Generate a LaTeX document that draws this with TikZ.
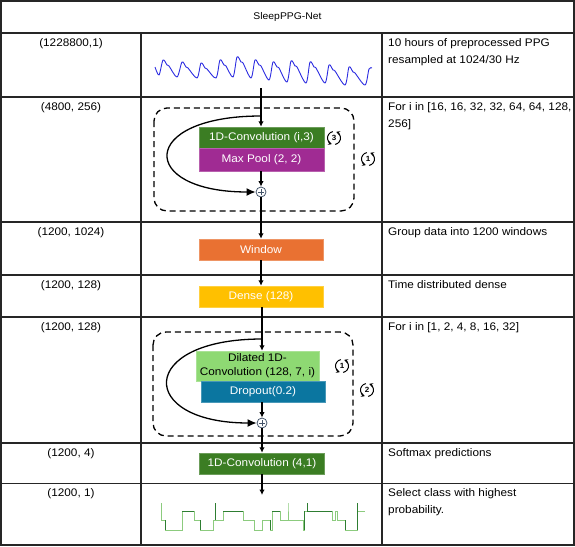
\documentclass[tikz,border=0pt]{standalone}
\usepackage{fontspec}
\setmainfont{Liberation Sans}[FakeStretch=1.07]
\usetikzlibrary{arrows.meta}
\definecolor{convg}{HTML}{3B7D23}
\definecolor{poolc}{HTML}{A02B93}
\definecolor{winc}{HTML}{E97132}
\definecolor{densec}{HTML}{FFC000}
\definecolor{dilc}{HTML}{8ED973}
\definecolor{dropc}{HTML}{0B76A0}
\definecolor{wavec}{HTML}{2B2BE0}
\definecolor{hypl}{HTML}{8CCB7E}
\definecolor{hypd}{HTML}{2E7D32}
\definecolor{plusc}{HTML}{44546A}
\newcommand\loopico[2]{%
  \node[font=\fontsize{7.5}{8}\selectfont\bfseries, inner sep=0] at (#1) {#2};
  \draw[line width=1pt, -{Stealth[length=3.6pt,width=4pt]}] (#1) ++(100:6.5pt) arc[start angle=100, end angle=250, radius=6.5pt];
  \draw[line width=1pt, -{Stealth[length=3.6pt,width=4pt]}] (#1) ++(280:6.5pt) arc[start angle=280, end angle=430, radius=6.5pt];
}
\begin{document}
\begin{tikzpicture}[x=1pt, y=-1pt,
  tbl/.style={line width=1.1pt, draw=black!85},
  txt/.style={font=\fontsize{11}{13}\selectfont, inner sep=0},
  box/.style={minimum width=125pt, minimum height=21pt, inner sep=0, font=\fontsize{11}{13}\selectfont, text=white, line width=0.5pt},
  arr/.style={line width=1.4pt, -{Latex[length=5.5pt,width=5.5pt]}},
  arrbig/.style={line width=1.3pt, -{Latex[length=9pt,width=8pt]}},
  loopbox/.style={line width=1.3pt, dash pattern=on 6pt off 4pt, rounded corners=13pt},
  plusnode/.style={circle, draw=plusc, fill=white, line width=0.8pt, minimum size=10pt, inner sep=0}
]
\useasboundingbox (0,0) rectangle (575,546);
% table
\draw[tbl] (1,1) rectangle (574,545);
\foreach \yy in {33,97,222,275,317,443,483.5} \draw[tbl] (1,\yy) -- (574,\yy);
\draw[tbl] (141,33) -- (141,545);
\draw[tbl] (382,33) -- (382,545);
% title
\node[txt, font=\fontsize{9.7}{11}\selectfont, anchor=base] (title) at (287.5,19) {SleepPPG-Net};
% left column
\node[txt, anchor=base] (l1) at (71,46.5) {(1228800,1)};
\node[txt, anchor=base] (l2) at (71,110.5) {(4800, 256)};
\node[txt, anchor=base] (l3) at (71,235.5) {(1200, 1024)};
\node[txt, anchor=base] (l4) at (71,288.5) {(1200, 128)};
\node[txt, anchor=base] (l5) at (71,330.5) {(1200, 128)};
\node[txt, anchor=base] (l6) at (71,456.5) {(1200, 4)};
\node[txt, anchor=base] (l7) at (71,496.5) {(1200, 1)};
% right column
\node[txt, anchor=base west] (r1a) at (388,46.5) {10 hours of preprocessed PPG};
\node[txt, anchor=base west] (r1b) at (388,63) {resampled at 1024/30 Hz};
\node[txt, anchor=base west] (r2a) at (388,110.5) {For i in [16, 16, 32, 32, 64, 64, 128,};
\node[txt, anchor=base west] (r2b) at (388,127) {256]};
\node[txt, anchor=base west] (r3) at (388,235.5) {Group data into 1200 windows};
\node[txt, anchor=base west] (r4) at (388,288.5) {Time distributed dense};
\node[txt, anchor=base west] (r5) at (388,330.5) {For i in [1, 2, 4, 8, 16, 32]};
\node[txt, anchor=base west] (r6) at (388,456.5) {Softmax predictions};
\node[txt, anchor=base west] (r7a) at (388,496.5) {Select class with highest};
\node[txt, anchor=base west] (r7b) at (388,513) {probability.};
% PPG wave
\draw[wavec, line width=0.9pt, line join=round] plot[smooth, tension=0.5] coordinates {
 (155,67) (159,75) (163,60) (167,65) (169,66) (177,77)
 (182,62) (186,67) (188,68) (197,78)
 (201,63) (205,68) (207,69) (216,78)
 (220,60) (224,65) (226,66) (233,77)
 (237,57) (241,62) (243,63) (251,78)
 (255,60) (259,65) (261,66) (269,80)
 (273,62) (277,67) (279,68) (287,82)
 (291,61) (295,66) (297,67) (306,83)
 (310,62) (314,67) (316,68) (325,83)
 (329,65) (333,70) (335,71) (345,85)
 (349,67) (353,72) (355,73) (365,85)
 (369,69) (372,68)};
\coordinate (w1) at (261,88);
% block 1
\draw[loopbox] (154,108) rectangle (354,211);
\node[box, fill=convg, draw=convg!75!white] (conv) at (261.5,137.5) {1D-Convolution (i,3)};
\node[box, fill=poolc, draw=poolc!75!white, minimum height=23pt] (pool) at (261.5,159.5) {Max Pool (2, 2)};
\node[plusnode] (plus1) at (261,192) {};
\draw[line width=0.7pt, plusc] (plus1.center) ++(-3pt,0) -- ++(6pt,0) (plus1.center) ++(0,-3pt) -- ++(0,6pt);
\coordinate (c1) at (261,116);
\draw[arr] (w1) -- (w1 |- conv.north);
\draw[arr] (plus1 |- pool.south) -- (plus1.north);
\draw[arrbig] (c1) .. controls (138,116) and (138,192) .. (plus1.west);
\loopico{334,138}{3}
\loopico{368,159}{1}
% window / dense
\node[box, fill=winc, draw=winc!75!white, minimum width=124pt] (window) at (261,249.5) {Window};
\node[box, fill=densec, draw=densec!75!white, minimum width=124pt] (dense) at (261,296.5) {Dense (128)};
\draw[arr] (plus1.south) -- (plus1.south |- window.north);
\draw[arr] (plus1.south |- window.south) -- (plus1.south |- dense.north);
% block 2
\draw[loopbox] (153,332) rectangle (353,436);
\node[box, fill=dilc, draw=dilc!75!white, minimum width=123pt, minimum height=30pt, text=black, align=center, font=\fontsize{11}{14}\selectfont] (dil) at (257.5,366) {Dilated 1D-\\Convolution (128, 7, i)};
\node[box, fill=dropc, draw=dropc!75!white, minimum width=124pt] (drop) at (263,391.5) {Dropout(0.2)};
\node[plusnode] (plus2) at (262,423) {};
\draw[line width=0.7pt, plusc] (plus2.center) ++(-3pt,0) -- ++(6pt,0) (plus2.center) ++(0,-3pt) -- ++(0,6pt);
\coordinate (c2) at (262,339);
\draw[arr] (plus2 |- dense.south) -- (plus2 |- dil.north);
\draw[arr] (plus2 |- drop.south) -- (plus2.north);
\draw[arrbig] (c2) .. controls (137,339) and (137,423) .. (plus2.west);
\loopico{342,366}{1}
\loopico{367,390}{2}
% output conv
\node[box, fill=convg, draw=convg!75!white] (conv2) at (262,463.5) {1D-Convolution (4,1)};
\coordinate (h1) at (262,495);
\draw[arr] (plus2.south) -- (plus2 |- conv2.north);
\draw[arr] (conv2.south) -- (h1);
% hypnogram
\draw[hypl, line width=0.8pt] (161,503) -- (161,520) -- (165,520) -- (165,530) -- (182,530) -- (182,511) -- (194,511) -- (194,520) -- (200,520) -- (200,530) -- (213,530) -- (213,520) -- (215,520) -- (215,503) -- (215,520) -- (223,520) -- (223,511) -- (243,511) -- (243,520) -- (254,520) -- (254,530) -- (262,530) -- (262,520) -- (270,520) -- (270,530) -- (272,530) -- (272,511) -- (280,511) -- (280,520) -- (288,520) -- (288,503) -- (288,520) -- (303,520) -- (303,530) -- (304,530) -- (304,511) -- (307,511) -- (307,503) -- (307,511) -- (332,511) -- (332,520) -- (335,520) -- (335,511) -- (337,511) -- (337,520) -- (345,520) -- (345,530) -- (357,530) -- (357,503) -- (357,511) -- (365,511);
\draw[hypd, line width=0.9pt] (165,520) -- (165,530) (182,511) -- (194,511) (200,520) -- (200,530) (215,503) -- (215,520) (223,511) -- (243,511) (270,520) -- (270,530) (272,511) -- (280,511) (304,511) -- (304,530) (307,503) -- (307,511) (307,511) -- (332,511) (345,520) -- (345,530) (357,503) -- (357,530);
\end{tikzpicture}
\end{document}
